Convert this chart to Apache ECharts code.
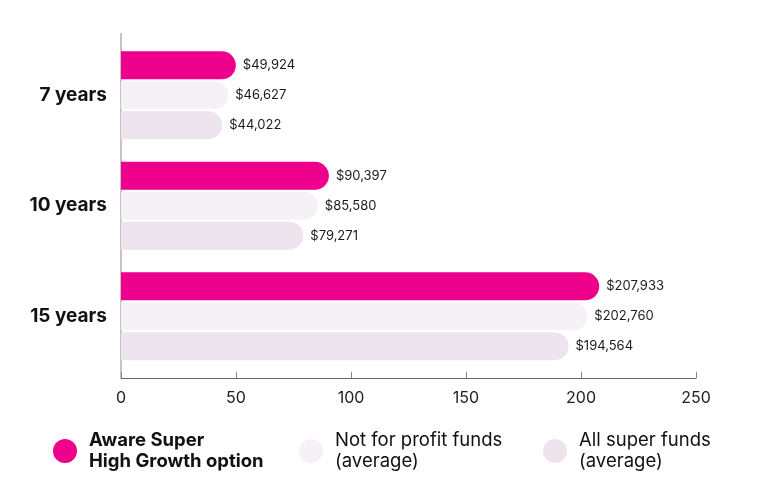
<!DOCTYPE html>
<html>
<head>
<meta charset="utf-8">
<script src="https://cdn.jsdelivr.net/npm/echarts@6/dist/echarts.min.js"></script>
<style>
  html, body { margin: 0; padding: 0; background: #fff; }
  #chart { width: 765px; height: 501px; }
</style>
</head>
<body>
<div id="chart"></div>
<script>
// values in thousands of dollars
const categories = ['7 years', '10 years', '15 years'];
const seriesNames = ['Aware Super\nHigh Growth option', 'Not for profit funds\n(average)', 'All super funds\n(average)'];
const awareValues = [49.924, 90.397, 207.933];
const notForProfitValues = [46.627, 85.580, 202.760];
const allSuperValues = [44.022, 79.271, 194.564];
const xTicks = [0, 50, 100, 150, 200, 250];

const colors = ['#EC008C', '#F6F1F7', '#EEE4EE'];
const font = 'Inter, "Noto Sans", sans-serif';

const chart = echarts.init(document.getElementById('chart'));

function money(v) {
  return '$' + Math.round(v * 1000).toLocaleString('en-US');
}

function makeSeries(name, data, color) {
  return {
    name: name,
    type: 'bar',
    data: data,
    barWidth: 28,
    barGap: '7%',
    itemStyle: { color: color, borderRadius: [0, 14, 14, 0] },
    label: {
      show: true,
      position: 'right',
      distance: 7,
      formatter: p => money(p.value),
      color: '#1a1a1a',
      fontSize: 13,
      fontFamily: font
    },
    emphasis: { disabled: true }
  };
}

function makeLegend(i, left, bold) {
  return {
    data: [seriesNames[i]],
    left: left,
    top: 430,
    icon: 'circle',
    itemWidth: 24,
    itemHeight: 24,
    itemGap: 0,
    padding: 0,
    selectedMode: false,
    textStyle: {
      fontFamily: font,
      fontSize: 18.5,
      lineHeight: 21,
      fontWeight: bold ? 'bold' : 'normal',
      color: '#111',
      padding: [0, 0, 0, 7]
    }
  };
}

chart.setOption({
  animation: false,
  grid: { left: 121, right: 69, top: 40, bottom: 129.5 },
  legend: [
    makeLegend(0, 53, true),
    makeLegend(1, 299, false),
    makeLegend(2, 543, false)
  ],
  xAxis: {
    type: 'value',
    min: 0,
    max: xTicks[xTicks.length - 1],
    interval: 50,
    offset: 6.5,
    axisLine: { show: true, lineStyle: { color: '#666', width: 1 } },
    axisTick: { show: true, inside: true, length: 6, lineStyle: { color: '#888' } },
    axisLabel: { color: '#222', fontSize: 16, fontFamily: font, margin: 12 },
    splitLine: { show: false }
  },
  yAxis: {
    type: 'category',
    data: categories,
    inverse: true,
    axisLine: { show: false },
    axisTick: { show: false },
    axisLabel: { color: '#111', fontSize: 19, fontWeight: 'bold', fontFamily: font, margin: 14 }
  },
  graphic: [{
    type: 'line',
    shape: { x1: 121, y1: 33, x2: 121, y2: 378 },
    style: { stroke: '#888', lineWidth: 1 }
  }],
  series: [
    makeSeries(seriesNames[0], awareValues, colors[0]),
    makeSeries(seriesNames[1], notForProfitValues, colors[1]),
    makeSeries(seriesNames[2], allSuperValues, colors[2])
  ]
});
</script>
</body>
</html>
